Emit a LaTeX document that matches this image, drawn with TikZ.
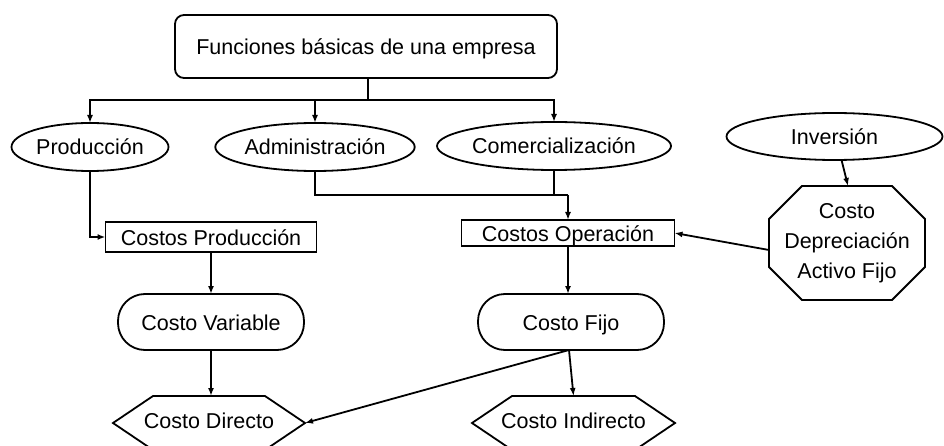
\documentclass[tikz,border=0pt]{standalone}
\usepackage{fontspec}
\setmainfont{Liberation Sans}
\usetikzlibrary{arrows.meta,shapes.geometric,calc}
\begin{document}
\begin{tikzpicture}[x=1pt,y=-1pt,
  every node/.style={font=\fontsize{21.5}{30}\selectfont, inner sep=0pt, outer sep=0pt},
  tx/.style={text height=18pt,text depth=2pt},
  conn/.style={line width=1.8pt},
  arr/.style={conn,-{Latex[length=8pt,width=6pt]}},
  ellnode/.style={ellipse,draw,line width=1.8pt,minimum height=48pt,tx},
  boxnode/.style={rectangle,draw,line width=1.8pt,tx},
  pill/.style={rectangle,draw,line width=1.8pt,rounded corners=27pt,minimum height=56pt,tx},
  hexnode/.style={rectangle,minimum height=54pt,text height=14pt,text depth=4pt},
]
\useasboundingbox (0,0) rectangle (944,446);

% nodes
\node[boxnode,rounded corners=9pt,minimum width=382pt,minimum height=63pt] (top) at (366,46.5) {Funciones básicas de una empresa};
\node[ellnode,minimum width=157pt] (prod) at (90,147) {Producción};
\node[ellnode,minimum width=198pt] (admin) at (315,147) {Administración};
\node[ellnode,minimum width=234pt] (comer) at (554,146) {Comercialización};
\node[ellnode,minimum width=216pt,minimum height=47pt] (inv) at (834.5,136.5) {Inversión};
\node[minimum width=156pt,minimum height=114pt,align=center] (oct) at (847,243) {Costo\\Depreciación\\Activo Fijo};
\draw[conn] ([xshift=33pt]oct.north west) -- ([xshift=-33pt]oct.north east) -- ([yshift=-33pt]oct.north east) -- ([yshift=33pt]oct.south east) -- ([xshift=-33pt]oct.south east) -- ([xshift=33pt]oct.south west) -- ([yshift=33pt]oct.south west) -- ([yshift=-33pt]oct.north west) -- cycle;

\node[boxnode,minimum width=211pt,minimum height=30pt] (cprod) at (211,237) {Costos Producción};
\node[boxnode,minimum width=213pt,minimum height=26pt,text height=19pt,text depth=1pt] (cop) at (568,233) {Costos Operación};
\node[pill,minimum width=186pt] (cvar) at (211,322) {Costo Variable};
\node[pill,minimum width=186pt] (cfijo) at (571,322) {Costo Fijo};
\node[hexnode,minimum width=192pt] (cdir) at (209,423) {Costo Directo};
\node[hexnode,minimum width=203pt] (cind) at (573.5,423) {Costo Indirecto};
\draw[conn] (cdir.west) -- ([xshift=40pt]cdir.north west) -- ([xshift=-40pt]cdir.north east) -- (cdir.east) -- ([xshift=-40pt]cdir.south east) -- ([xshift=40pt]cdir.south west) -- cycle;
\draw[conn] (cind.west) -- ([xshift=40pt]cind.north west) -- ([xshift=-40pt]cind.north east) -- (cind.east) -- ([xshift=-40pt]cind.south east) -- ([xshift=40pt]cind.south west) -- cycle;

% connectors
\coordinate (jt) at ($(top.south)+(2,22)$);
\draw[conn] ([xshift=2pt]top.south) -- (jt);
\draw[arr] (jt) -| (prod.north);
\draw[arr] (jt) -| (admin.north);
\draw[arr] (jt) -| (comer.north);

\draw[arr] (prod.south) |- (cprod.west);
\coordinate (jo) at ($(cop.north)+(0,-25)$);
\draw[conn] (admin.south) |- (jo);
\draw[conn] (comer.south) |- (jo);
\draw[arr] (jo) -- (cop.north);
\draw[arr] ([xshift=7pt]inv.south) -- ([xshift=1pt]oct.north);
\draw[arr] ([yshift=-7pt]oct.west) -- (cop.east);

\draw[arr] (cprod.south) -- (cprod.south |- cvar.north);
\draw[arr] (cop.south) -- (cop.south |- cfijo.north);
\draw[arr] (cvar.south) -- (cvar.south |- cdir.north);
\coordinate (fs) at ([xshift=-2pt]cfijo.south);
\draw[arr] (fs) -- (cdir.east);
\draw[arr] (fs) -- (cind.north);
\end{tikzpicture}
\end{document}
